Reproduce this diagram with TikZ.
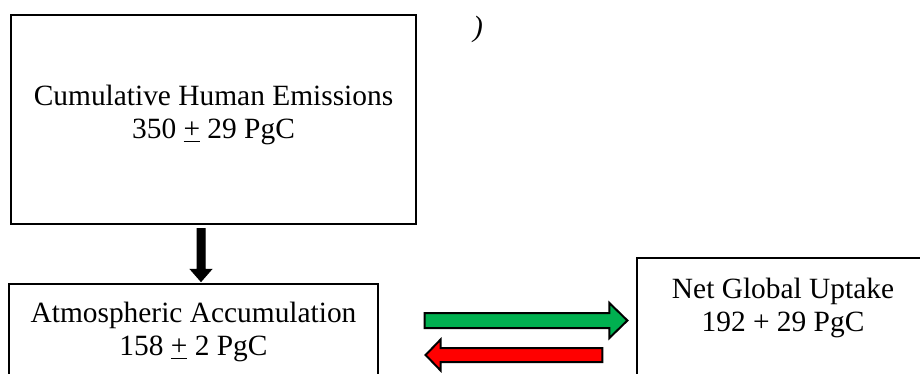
\documentclass[tikz,border=0pt]{standalone}
\usepackage{fontspec}
\setmainfont{Liberation Serif}
\usetikzlibrary{calc}
\definecolor{upgreen}{RGB}{0,176,80}
\def\blockarrow[#1](#2)(#3)(#4:#5:#6){%
  \coordinate (ah) at ($(#3)!#6!(#2)$);
  \draw[#1] ($(#2)!#4!90:(#3)$) -- ($(ah)!#4!90:(#3)$) -- ($(ah)!#5!90:(#3)$) -- (#3)
    -- ($(ah)!#5!-90:(#3)$) -- ($(ah)!#4!-90:(#3)$) -- ($(#2)!#4!-90:(#3)$) -- cycle;}

\begin{document}
\begin{tikzpicture}[x=0.5pt, y=-0.5pt,
    box/.style={draw, line width=0.6pt, inner sep=0pt},
    label/.style={align=center, inner sep=0pt, font=\fontsize{14.7}{16.5}\selectfont}]
		%%%%% FRAME %%%%%
		\useasboundingbox (0,0) rectangle (920,374);
		\clip (0,0) rectangle (920,374);
		
		%%%%% BOXES %%%%%
		\node[box, minimum width=202.5pt, minimum height=104.5pt] (emisbox) at (213.5,119.5) {};
		\node[label] (emis) at (213.5,115) {Cumulative Human Emissions\\350 \underline{+} 29 PgC};
		\node[box, minimum width=184.5pt, minimum height=58pt] (atmbox) at (193.5,342) {};
		\node[label] (atm) at (193.5,332) {Atmospheric Accumulation\\158 \underline{+} 2 PgC};
		\node[box, minimum width=146pt, minimum height=72pt] (uptbox) at (783,330) {};
		\node[label] (upt) at (783,308) {Net Global Uptake\\192 + 29 PgC};
		\node[label] (paren) at (478,29) {\textit{)}};
		
		%%%%% ARROWS %%%%%
		\coordinate (downtail) at ($(emisbox.south)+(-12.5,4)$);
		\coordinate (downtip) at ($(atmbox.north)+(7.5,-2)$);
		\blockarrow[fill=black, line width=0.5pt](downtail)(downtip)(2pt:5.25pt:6pt)
		
		\coordinate (outtail) at ($(atmbox.east)+(46,-21.5)$);
		\coordinate (outtip) at ($(uptbox.west)+(-9,-9.5)$);
		\blockarrow[fill=upgreen, line width=1pt](outtail)(outtip)(3.75pt:8.75pt:9pt)
		
		\coordinate (intail) at ($(uptbox.west)+(-34,25)$);
		\coordinate (intip) at ($(atmbox.east)+(47,13)$);
		\blockarrow[fill=red, line width=1pt](intail)(intip)(3.5pt:7.75pt:7.5pt)
	\end{tikzpicture}
\end{document}
